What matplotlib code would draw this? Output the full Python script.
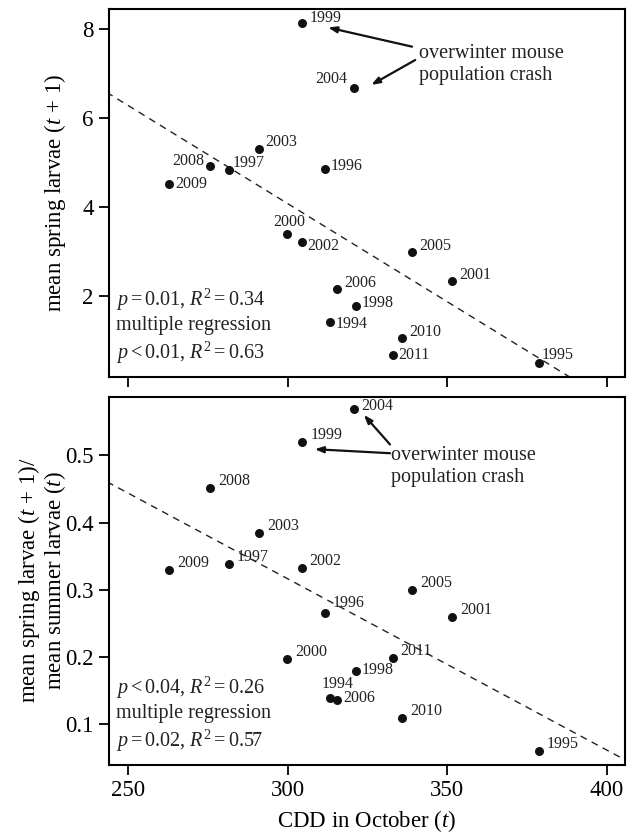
import matplotlib
matplotlib.use("Agg")
import matplotlib.pyplot as plt
import numpy as np

plt.rcParams['font.family'] = ['Liberation Serif', 'DejaVu Serif']
plt.rcParams['mathtext.fontset'] = 'custom'
plt.rcParams['mathtext.rm'] = 'Liberation Serif'
plt.rcParams['mathtext.it'] = 'Liberation Serif:italic'

# data
years = ['1994', '1995', '1996', '1997', '1998', '1999', '2000', '2001', '2002',
         '2003', '2004', '2005', '2006', '2008', '2009', '2010', '2011']
cdd_oct = [313.4, 378.8, 311.6, 281.6, 321.3, 304.6, 299.9, 351.6, 304.4,
           291.0, 320.7, 339.0, 315.4, 275.7, 262.9, 336.0, 332.9]
spring_larvae = [1.43, 0.49, 4.86, 4.83, 1.78, 8.15, 3.40, 2.35, 3.21,
                 5.30, 6.67, 3.00, 2.16, 4.92, 4.52, 1.07, 0.68]
spring_over_summer = [0.139, 0.0605, 0.265, 0.339, 0.179, 0.519, 0.198, 0.260, 0.332,
                      0.384, 0.568, 0.300, 0.136, 0.451, 0.330, 0.109, 0.199]

stats_top = "$p = 0.01$, $R^2 = 0.34$\nmultiple regression\n$p < 0.01$, $R^2 = 0.63$"
stats_bot = "$p < 0.04$, $R^2 = 0.26$\nmultiple regression\n$p = 0.02$, $R^2 = 0.57$"

# label offsets in pixels (dx, dy, ha)
off_top = {'1999': (7, 5, 'left'), '2004': (-6, 9, 'right'), '2003': (6, 7, 'left'),
           '2008': (-6, 5, 'right'), '1997': (4, 7, 'left'), '1996': (6, 3, 'left'),
           '2009': (6, 0, 'left'), '2000': (2, 12, 'center'), '2002': (6, -4, 'left'),
           '2005': (7, 6, 'left'), '2001': (7, 6, 'left'), '2006': (8, 6, 'left'),
           '1998': (6, 3, 'left'), '1994': (5, -2, 'left'), '2010': (7, 6, 'left'),
           '2011': (6, 0, 'left'), '1995': (3, 8, 'left')}
off_bot = {y: (8, 7, 'left') for y in years}
off_bot.update({'2004': (8, 3, 'left'), '1996': (8, 10, 'left'), '1998': (6, 1, 'left'),
                '1994': (7, 14, 'center'), '2006': (7, 2, 'left')})


def panel(ax, y, offs, ylim, yticks, stats, stats_xy, note_xy, arrows):
    x = np.array(cdd_oct)
    y = np.array(y)
    ax.scatter(x, y, s=42, color='#111111', zorder=3, linewidths=0)
    for yr, xi, yi in zip(years, x, y):
        dx, dy, ha = offs[yr]
        ax.annotate(yr, (xi, yi), xytext=(dx * 0.72, dy * 0.72), textcoords='offset points',
                    ha=ha, va='center', fontsize=11.5, color='#222222')
    #regression line through all points
    m, b = np.polyfit(x, y, 1)
    xx = np.array([240, 410])
    ax.plot(xx, m * xx + b, ls=(0, (5, 4)), color='#222222', lw=1.0)
    ax.text(stats_xy[0], stats_xy[1], stats, fontsize=14.5, ha='left', va='center',
            linespacing=1.25, color='#222222')
    ax.text(note_xy[0], note_xy[1], "overwinter mouse\npopulation crash", fontsize=14.5,
            ha='left', va='center', linespacing=1.25, color='#222222')
    for start, end in arrows:
        ax.annotate('', xy=end, xytext=start,
                    arrowprops=dict(arrowstyle='-|>,head_length=0.5,head_width=0.18',
                                    color='#111111', lw=1.6, shrinkA=0, shrinkB=0))
    ax.set_xlim(244, 405.6)
    ax.set_ylim(*ylim)
    ax.set_xticks([250, 300, 350, 400])
    ax.set_yticks(yticks)
    for s in ax.spines.values():
        s.set_linewidth(1.5)
    ax.tick_params(direction='out', length=7, width=1.3, labelsize=16.5, pad=4)


fig = plt.figure(figsize=(6.27, 8.36), dpi=100)
ax1 = fig.add_axes([0.1735, 0.5494, 0.8227, 0.4395])
ax2 = fig.add_axes([0.1735, 0.0855, 0.8227, 0.4400])

panel(ax1, spring_larvae, off_top, (0.193, 8.45), [2, 4, 6, 8], stats_top, (246.3, 1.32),
      (341.2, 7.21), [((339.0, 7.61), (312.7, 8.04)), ((340.0, 7.31), (326.2, 6.75))])
ax1.set_xticklabels([])
ax1.set_ylabel('mean spring larvae ($t$ + 1)', fontsize=16.5, labelpad=10)

panel(ax2, spring_over_summer, off_bot, (0.0405, 0.587), [0.1, 0.2, 0.3, 0.4, 0.5], stats_bot,
      (246.3, 0.115), (332.5, 0.483), [((332.1, 0.503), (308.5, 0.509)), ((332.1, 0.516), (323.9, 0.560))])
ax2.set_yticklabels(['0.1', '0.2', '0.3', '0.4', '0.5'])
ax2.set_ylabel('mean spring larvae ($t$ + 1)/\nmean summer larvae ($t$)', fontsize=16.5,
               labelpad=-2, linespacing=1.0)
ax2.set_xlabel('CDD in October ($t$)', fontsize=16.5, labelpad=5)

fig.savefig('out.png', dpi=100)
